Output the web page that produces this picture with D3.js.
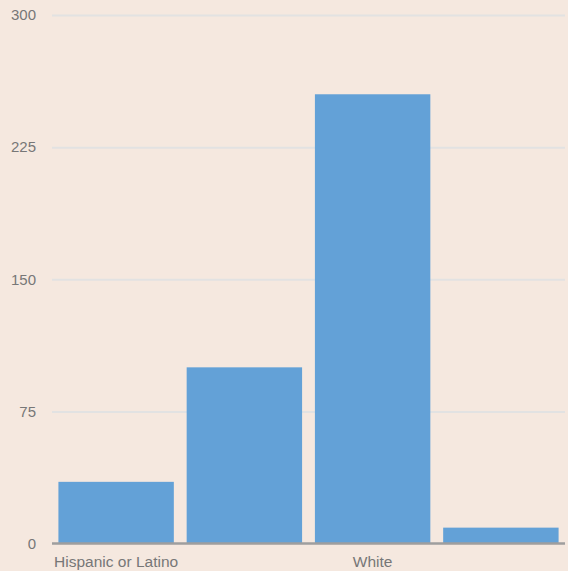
<!DOCTYPE html>
<html><head><meta charset="utf-8">
<script src="https://cdn.jsdelivr.net/npm/d3@7"></script>
<style>
html,body{margin:0;padding:0;background:#f5e8df;}
svg{display:block;font-family:"Liberation Sans",Arial,sans-serif;}
</style></head>
<body><svg id="chart" width="568" height="571"></svg>
<script>
const categories = ["Hispanic or Latino", "Black or African American", "White", "Asian"];
const values = [35, 100, 255, 9];
const yTicks = [0, 75, 150, 225, 300];
const shownLabels = ["Hispanic or Latino", "White"];

const W = 568, H = 571;
const m = {top: 15, right: 3, bottom: 27.5, left: 52};
const svg = d3.select("#chart");
svg.append("rect").attr("width", W).attr("height", H).attr("fill", "#f5e8df");

const x = d3.scaleBand().domain(categories).range([m.left, W - m.right]).paddingInner(0.1).paddingOuter(0.05);
const y = d3.scaleLinear().domain([0, 300]).range([H - m.bottom, m.top]);

// gridlines
const gy = svg.append("g").attr("transform", `translate(${m.left},0)`)
  .call(d3.axisLeft(y).tickValues(yTicks).tickSize(-(W - m.right - m.left)).tickFormat(d => d));
gy.select(".domain").remove();
gy.selectAll(".tick line").attr("stroke", "#e2e2e2").attr("stroke-width", 2);
gy.selectAll(".tick text").attr("x", -16).attr("fill", "#777").attr("font-size", "15px");
gy.selectAll(".tick").filter(d => d === 0).select("line").remove();

// bars
svg.append("g").selectAll("rect").data(categories).join("rect")
  .attr("x", d => x(d)).attr("width", x.bandwidth())
  .attr("y", (d, i) => y(values[i]))
  .attr("height", (d, i) => y(0) - y(values[i]))
  .attr("fill", "#63a1d7");

// x axis
const gx = svg.append("g").attr("transform", `translate(0,${y(0)})`)
  .call(d3.axisBottom(x).tickSize(0).tickPadding(12).tickFormat(d => shownLabels.includes(d) ? d : ""));
gx.select(".domain").attr("stroke", "#9e9e9e").attr("stroke-width", 2.5)
  .attr("d", `M${m.left},0H${W - m.right}`);
gx.selectAll(".tick text").attr("fill", "#777").attr("font-size", "15.5px");
</script></body></html>
